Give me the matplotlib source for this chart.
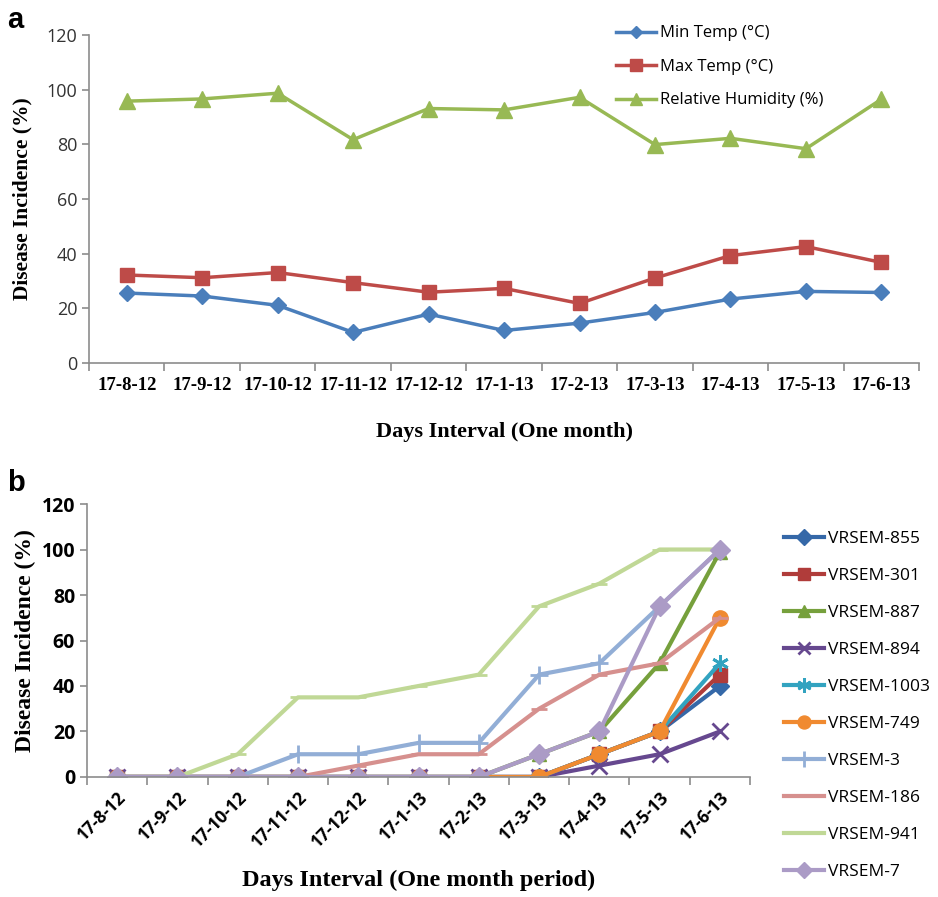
import numpy as np
import matplotlib
matplotlib.use('Agg')
from matplotlib import pyplot as plt

# categories (shared by both panels)
days = ['17-8-12', '17-9-12', '17-10-12', '17-11-12', '17-12-12', '17-1-13',
        '17-2-13', '17-3-13', '17-4-13', '17-5-13', '17-6-13']

# panel a - weather
min_temp = [25.6, 24.5, 21.1, 11.2, 17.9, 11.9, 14.6, 18.5, 23.4, 26.2, 25.8]
max_temp = [32.2, 31.2, 33.1, 29.4, 25.9, 27.3, 21.8, 31.1, 39.3, 42.6, 36.8]
rel_hum = [95.8, 96.6, 98.7, 81.7, 93.1, 92.6, 97.2, 79.9, 82.2, 78.4, 96.5]

# panel b - disease incidence per line
vrsem_855 = [0, 0, 0, 0, 0, 0, 0, 0, 10, 20, 40]
vrsem_301 = [0, 0, 0, 0, 0, 0, 0, 0, 10, 20, 45]
vrsem_887 = [0, 0, 0, 0, 0, 0, 0, 10, 20, 50, 99]
vrsem_894 = [0, 0, 0, 0, 0, 0, 0, 0, 5, 10, 20]
vrsem_1003 = [0, 0, 0, 0, 0, 0, 0, 0, 10, 20, 50]
vrsem_749 = [0, 0, 0, 0, 0, 0, 0, 0, 10, 20, 70]
vrsem_3 = [0, 0, 0, 10, 10, 15, 15, 45, 50, 75, 100]
vrsem_186 = [0, 0, 0, 0, 5, 10, 10, 30, 45, 50, 70]
vrsem_941 = [0, 0, 10, 35, 35, 40, 45, 75, 85, 100, 100]
vrsem_7 = [0, 0, 0, 0, 0, 0, 0, 10, 20, 75, 100]

SERIF = 'Liberation Serif'
SANS = 'Open Sans'
AXC = '#8c8c8c'

fig = plt.figure(figsize=(9.38, 8.97), dpi=100)
x = np.arange(len(days))


def style_axes(ax):
    for s in ['top', 'right']:
        ax.spines[s].set_visible(False)
    for s in ['left', 'bottom']:
        ax.spines[s].set_color(AXC)
        ax.spines[s].set_linewidth(1.2)
    ax.set_xlim(-0.5, len(days) - 0.5)
    ax.set_ylim(0, 120)
    ax.set_yticks(np.arange(0, 121, 20))
    ax.set_xticks(np.arange(-0.5, len(days), 1))
    ax.set_xticklabels([])
    ax.set_xticks(x, minor=True)
    ax.tick_params(axis='x', which='major', length=6, color=AXC, width=1.2)
    ax.tick_params(axis='x', which='minor', length=0)
    ax.tick_params(axis='y', length=5, color=AXC, width=1.2)


# ---- panel a ----
ax1 = fig.add_axes([0.0949, 0.5953, 0.885, 0.3657])
style_axes(ax1)
ax1.plot(x, min_temp, color='#4a7ebb', lw=2.5, marker='D', ms=8, label='Min Temp (°C)')
ax1.plot(x, max_temp, color='#be4b48', lw=2.5, marker='s', ms=10, label='Max Temp (°C)')
ax1.plot(x, rel_hum, color='#98b954', lw=2.5, marker='^', ms=11, label='Relative Humidity (%)')
ax1.set_xticklabels(days, minor=True, fontfamily=SERIF, fontweight='bold', fontsize=13.5)
ax1.tick_params(axis='x', which='minor', pad=10)
for t in ax1.get_yticklabels():
    t.set_fontfamily(SANS)
    t.set_fontsize(13)
    t.set_color('#333333')
ax1.set_xlabel('Days Interval (One month)', fontfamily=SERIF, fontweight='bold', fontsize=16, labelpad=20)
ax1.set_ylabel('Disease Incidence (%)', fontfamily=SERIF, fontweight='bold', fontsize=15.5, labelpad=10)
ax1.legend(loc='upper left', bbox_to_anchor=(0.617, 1.075), frameon=False,
           prop={'family': SANS, 'size': 12}, handlelength=2.4, handletextpad=0.25,
           labelspacing=1.05, markerscale=0.8)

# ---- panel b ----
ax2 = fig.add_axes([0.0928, 0.1338, 0.7068, 0.3043])
style_axes(ax2)
series_b = [
    ('VRSEM-855', vrsem_855, '#3568a8', 'D', 9),
    ('VRSEM-301', vrsem_301, '#b03c3a', 's', 10),
    ('VRSEM-887', vrsem_887, '#76a03c', '^', 10),
    ('VRSEM-894', vrsem_894, '#66488f', 'x', 11),
    ('VRSEM-1003', vrsem_1003, '#32a3c0', (6, 2, 0), 12),
    ('VRSEM-749', vrsem_749, '#f08a30', 'o', 11),
    ('VRSEM-3', vrsem_3, '#92aed6', '+', 13),
    ('VRSEM-186', vrsem_186, '#d6908e', '_', 12),
    ('VRSEM-941', vrsem_941, '#c0d896', '_', 12),
    ('VRSEM-7', vrsem_7, '#ab9bc6', 'D', 10),
]
for name, vals, col, mk, ms in series_b:
    ax2.plot(x, vals, color=col, lw=3, marker=mk, ms=ms, mew=2 if mk in ['x', '+', '_', (6, 2, 0)] else 1,
             label=name)
ax2.set_xticklabels(days, minor=True, fontfamily=SANS, fontweight='bold', fontsize=12.5,
                    rotation=45, ha='right', rotation_mode='anchor')
ax2.tick_params(axis='x', which='minor', pad=8)
for t in ax2.get_yticklabels():
    t.set_fontfamily(SANS)
    t.set_fontweight('bold')
    t.set_fontsize(14)
ax2.set_xlabel('Days Interval (One month period)', fontfamily=SERIF, fontweight='bold', fontsize=17.5, labelpad=14)
ax2.set_ylabel('Disease Incidence (%)', fontfamily=SERIF, fontweight='bold', fontsize=17, labelpad=4)
ax2.legend(loc='upper left', bbox_to_anchor=(1.028, 0.96), frameon=False,
           prop={'family': SANS, 'size': 12.5}, handlelength=2.3, handletextpad=0.2,
           labelspacing=1.2, markerscale=0.85)

fig.text(0.008, 0.978, 'a', fontfamily='Liberation Sans', fontweight='bold', fontsize=21, va='center')
fig.text(0.008, 0.462, 'b', fontfamily='Liberation Sans', fontweight='bold', fontsize=21, va='center')

plt.savefig('out.png', dpi=100)
